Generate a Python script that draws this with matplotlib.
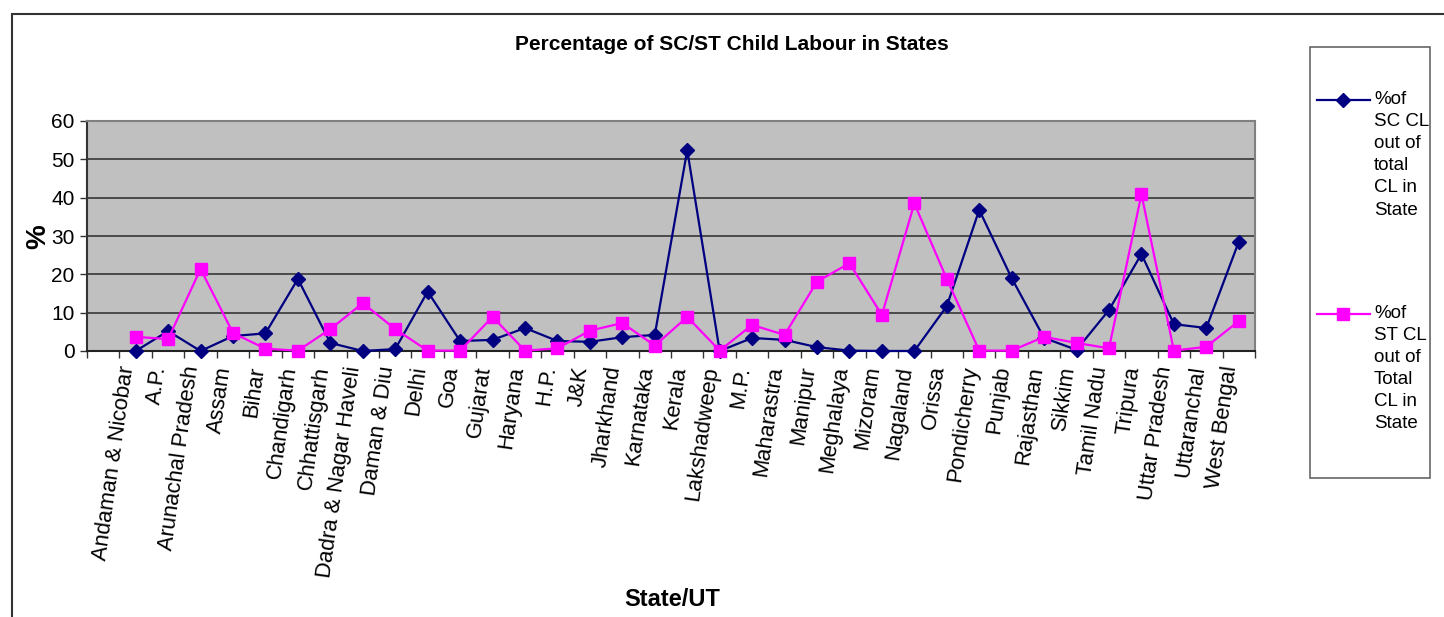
import matplotlib
matplotlib.use("Agg")
import matplotlib.pyplot as plt
from matplotlib.lines import Line2D
from matplotlib.patches import Rectangle
from matplotlib.transforms import ScaledTranslation
import numpy as np

plt.rcParams['font.family'] = ['Liberation Sans', 'DejaVu Sans']

states = [
    "Andaman & Nicobar", "A.P.", "Arunachal Pradesh", "Assam", "Bihar",
    "Chandigarh", "Chhattisgarh", "Dadra & Nagar Haveli", "Daman & Diu",
    "Delhi", "Goa", "Gujarat", "Haryana", "H.P.", "J&K", "Jharkhand",
    "Karnataka", "Kerala", "Lakshadweep", "M.P.", "Maharastra", "Manipur",
    "Meghalaya", "Mizoram", "Nagaland", "Orissa", "Pondicherry", "Punjab",
    "Rajasthan", "Sikkim", "Tamil Nadu", "Tripura", "Uttar Pradesh",
    "Uttaranchal", "West Bengal",
]
sc_pct = [0.0, 5.2, 0.0, 3.9, 4.6, 18.8, 2.1, 0.0, 0.5, 15.5, 2.6, 2.9, 6.0,
          2.6, 2.4, 3.6, 4.2, 52.4, 0.0, 3.4, 2.9, 1.0, 0.1, 0.0, 0.0, 11.7,
          36.8, 19.0, 3.4, 0.3, 10.7, 25.3, 7.0, 6.0, 28.5]
st_pct = [3.7, 3.1, 21.4, 4.7, 0.6, 0.1, 5.7, 12.5, 5.7, 0.1, 0.1, 8.9, 0.1,
          0.7, 5.3, 7.3, 1.4, 8.9, 0.1, 6.8, 4.2, 18.1, 22.9, 9.4, 38.5, 18.8,
          0.1, 0.1, 3.7, 2.1, 0.7, 40.9, 0.1, 1.1, 7.8]
y_ticks = [0, 10, 20, 30, 40, 50, 60]

title = "Percentage of SC/ST Child Labour in States"
x_title = "State/UT"
y_title = "%"
legend_sc = ["%of", "SC CL", "out of", "total", "CL in", "State"]
legend_st = ["%of", "ST CL", "out of", "Total", "CL in", "State"]

SC_COLOR = "#000080"
ST_COLOR = "#FF00FF"

W, H = 1444, 617
fig = plt.figure(figsize=(W / 100, H / 100), dpi=100)


def fx(px):
    return px / W


def fy(py):
    return 1 - py / H


# outer chart frame
fig.add_artist(Rectangle((fx(12), -0.05), 1.2, fy(14) + 0.05,
                         transform=fig.transFigure, fill=False,
                         ec="#333333", lw=1.5))

ax = fig.add_axes([fx(87), fy(351), fx(1255) - fx(87), fy(121) - fy(351)])
ax.set_facecolor("#C0C0C0")

x = np.arange(len(states))
ax.plot(x, sc_pct, color=SC_COLOR, lw=1.6, marker="D", ms=6.8,
        zorder=3, clip_on=False)
ax.plot(x, st_pct, color=ST_COLOR, lw=1.6, marker="s", ms=8.6,
        zorder=4, clip_on=False)

ax.set_xlim(-1.5, len(states) - 0.5)
ax.set_ylim(0, 60)

ax.set_yticks(y_ticks)
ax.yaxis.grid(True, color="#4a4a4a", lw=1.4)
ax.set_axisbelow(True)
ax.tick_params(axis="y", labelsize=15, length=5, width=1, pad=4,
               color="#333333")

ax.set_xticks(x)
ax.set_xticklabels(states, rotation=82, ha="right", va="center",
                   rotation_mode="anchor", fontsize=15.8)
ax.set_xticks(np.arange(-1.5, len(states), 1.0), minor=True)
ax.tick_params(axis="x", which="major", length=0, pad=11)
ax.tick_params(axis="x", which="minor", length=5, width=1, color="#333333")
shift = ScaledTranslation(-8 / 100, 0, fig.dpi_scale_trans)
for lab in ax.get_xticklabels():
    lab.set_transform(lab.get_transform() + shift)

ax.spines["left"].set_color("#333333")
ax.spines["bottom"].set_color("#222222")
ax.spines["top"].set_color("#808080")
ax.spines["right"].set_color("#808080")
for s in ax.spines.values():
    s.set_linewidth(1.5)

fig.text(fx(732), fy(45), title, fontsize=15, fontweight="bold",
         ha="center", va="center")
fig.text(fx(38), fy(237), y_title, rotation=90, fontsize=20,
         fontweight="bold", ha="center", va="center")
fig.text(fx(672), fy(600), x_title, fontsize=17, fontweight="bold",
         ha="center", va="center")

# legend box
fig.add_artist(Rectangle((fx(1310), fy(478)), fx(1430) - fx(1310),
                         fy(47) - fy(478), transform=fig.transFigure,
                         fill=False, ec="#666666", lw=1.2))
entries = [(legend_sc, SC_COLOR, "D", 6.8, 100),
           (legend_st, ST_COLOR, "s", 8.6, 314)]
for lines, color, marker, ms, ypx in entries:
    fig.add_artist(Line2D([fx(1317), fx(1370)], [fy(ypx), fy(ypx)],
                          transform=fig.transFigure, color=color, lw=1.6))
    fig.add_artist(Line2D([fx(1343)], [fy(ypx)], transform=fig.transFigure,
                          color=color, marker=marker, ms=ms, lw=0))
    for i, line in enumerate(lines):
        fig.text(fx(1374), fy(ypx + 22 * i), line, fontsize=13.5,
                 ha="left", va="center")

fig.savefig("out.png", dpi=100)
